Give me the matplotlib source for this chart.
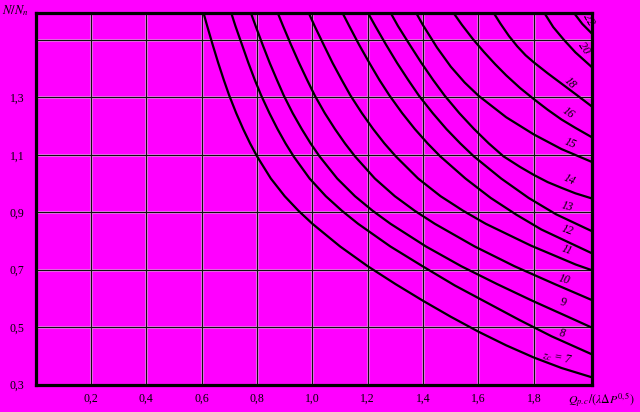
import matplotlib
matplotlib.use("Agg")
import matplotlib.pyplot as plt

# ---------------------------------------------------------
# Datos (Q vs N/N_n) para cada z
# ---------------------------------------------------------
q7 = [0.607, 0.62, 0.64, 0.66, 0.68, 0.70, 0.725, 0.75, 0.775, 0.80, 0.85, 0.90,
      0.95, 1.0, 1.1, 1.2, 1.3, 1.4, 1.5, 1.6, 1.7, 1.8, 1.9, 2.01]
n7 = [1.594, 1.549, 1.483, 1.420, 1.361, 1.306, 1.245, 1.19, 1.14, 1.095, 1.0175, 0.956,
      0.905, 0.860, 0.781, 0.712, 0.650, 0.5915, 0.536, 0.484, 0.4365, 0.394, 0.3575, 0.325]

q8 = [0.707, 0.722, 0.746, 0.769, 0.792, 0.8155, 0.845, 0.874, 0.903, 0.932, 0.990,
      1.0485, 1.107, 1.165, 1.2815, 1.398, 1.5145, 1.631, 1.7475, 1.864, 2.01]
n8 = [1.594, 1.549, 1.483, 1.420, 1.361, 1.306, 1.245, 1.19, 1.14, 1.095, 1.0175,
      0.956, 0.905, 0.860, 0.781, 0.712, 0.645, 0.585, 0.525, 0.468, 0.405]

q9 = [0.778, 0.795, 0.8205, 0.846, 0.872, 0.897, 0.929, 0.9615, 0.9935, 1.0256, 1.0897,
      1.1538, 1.218, 1.282, 1.410, 1.538, 1.667, 1.795, 1.923, 2.01]
n9 = [1.594, 1.549, 1.483, 1.420, 1.361, 1.306, 1.245, 1.19, 1.14, 1.095, 1.0175,
      0.956, 0.905, 0.860, 0.781, 0.712, 0.650, 0.5915, 0.536, 0.498]

q10 = [0.875, 0.894, 0.923, 0.952, 0.981, 1.009, 1.045, 1.0815, 1.1176, 1.1536, 1.2257,
       1.2978, 1.370, 1.442, 1.586, 1.730, 1.875, 2.01]
n10 = [1.594, 1.549, 1.483, 1.420, 1.361, 1.306, 1.245, 1.19, 1.14, 1.095, 1.0175,
       0.956, 0.905, 0.860, 0.781, 0.712, 0.650, 0.594]

q11 = [0.987, 1.008, 1.041, 1.073, 1.106, 1.138, 1.179, 1.2195, 1.260, 1.301, 1.382,
       1.463, 1.545, 1.626, 1.789, 1.951, 2.01]
n11 = [1.594, 1.549, 1.483, 1.420, 1.361, 1.306, 1.245, 1.19, 1.14, 1.095, 1.0175,
       0.956, 0.905, 0.860, 0.784, 0.718, 0.698]

q12 = [1.109, 1.133, 1.169, 1.206, 1.242, 1.279, 1.3246, 1.370, 1.416, 1.4616, 1.553,
       1.644, 1.736, 1.827, 2.01]
n12 = [1.594, 1.549, 1.483, 1.420, 1.361, 1.306, 1.245, 1.19, 1.14, 1.095, 1.0175,
       0.95, 0.892, 0.84, 0.757]

q13 = [1.201, 1.227, 1.2665, 1.306, 1.346, 1.385, 1.435, 1.484, 1.534, 1.583, 1.682,
       1.781, 1.880, 2.01]
n13 = [1.594, 1.549, 1.483, 1.420, 1.361, 1.306, 1.245, 1.19, 1.14, 1.095, 1.0175,
       0.95, 0.893, 0.834]

q14 = [1.283, 1.309, 1.352, 1.394, 1.436, 1.478, 1.531, 1.584, 1.637, 1.690, 1.75,
       1.80, 1.85, 1.90, 1.95, 2.01]
n14 = [1.594, 1.549, 1.483, 1.420, 1.361, 1.306, 1.245, 1.19, 1.14, 1.095, 1.058,
       1.03, 1.005, 0.985, 0.966, 0.948]

q15 = [1.375, 1.40, 1.45, 1.50, 1.55, 1.60, 1.70, 1.80, 1.90, 2.01]
n15 = [1.594, 1.551, 1.474, 1.407, 1.352, 1.306, 1.231, 1.171, 1.120, 1.075]

q16 = [1.51, 1.54, 1.58, 1.62, 1.66, 1.70, 1.75, 1.80, 1.85, 1.90, 1.95, 2.01]
n16 = [1.594, 1.553, 1.503, 1.458, 1.416, 1.377, 1.333, 1.294, 1.257, 1.223, 1.194, 1.161]

q18 = [1.655, 1.68, 1.71, 1.74, 1.77, 1.80, 1.85, 1.90, 1.95, 2.01]
n18 = [1.594, 1.556, 1.514, 1.478, 1.447, 1.422, 1.384, 1.348, 1.312, 1.268]

q20 = [1.838, 1.87, 1.909, 1.95, 2.01]
n20 = [1.594, 1.545, 1.50, 1.457, 1.405]

q22 = [1.945, 1.975, 2.01]
n22 = [1.594, 1.556, 1.522]

curvas = [(q7, n7), (q8, n8), (q9, n9), (q10, n10), (q11, n11), (q12, n12),
          (q13, n13), (q14, n14), (q15, n15), (q16, n16), (q18, n18),
          (q20, n20), (q22, n22)]

# etiquetas de las curvas (junto al borde derecho)
etq_txt = ["22", "20", "18", "16", "15", "14", "13", "12", "11", "10", "9", "8"]
etq_x = [1.996, 1.981, 1.931, 1.923, 1.931, 1.927, 1.920, 1.920, 1.920, 1.909, 1.905, 1.902]
etq_y = [1.570, 1.472, 1.350, 1.246, 1.141, 1.012, 0.918, 0.838, 0.768, 0.664, 0.587, 0.479]
etq_rot = [-60, -55, -45, -35, -22, -25, -15, -20, -20, -15, -10, -10]

x_ticks = [0.2, 0.4, 0.6, 0.8, 1.0, 1.2, 1.4, 1.6, 1.8]
x_labels = ["0,2", "0,4", "0,6", "0,8", "1,0", "1,2", "1,4", "1,6", "1,8"]
y_ticks = [0.3, 0.5, 0.7, 0.9, 1.1, 1.3]
y_labels = ["0,3", "0,5", "0,7", "0,9", "1,1", "1,3"]
y_grid = [0.5, 0.7, 0.9, 1.1, 1.3, 1.5]

# ---------------------------------------------------------
# Graficar
# ---------------------------------------------------------
plt.rcParams["font.family"] = ["Liberation Serif", "DejaVu Serif"]
plt.rcParams["mathtext.fontset"] = "stix"

fondo = "#ff00ff"
fig = plt.figure(figsize=(6.4, 4.12), dpi=100)
fig.patch.set_facecolor(fondo)
ax = fig.add_axes([0.0555, 0.0667, 0.8695, 0.9017])
ax.set_facecolor(fondo)
ax.set_xlim(0, 2.01)
ax.set_ylim(0.3, 1.594)

for x in x_ticks:
    ax.axvline(x, color="white", lw=2.2, alpha=0.45, zorder=1)
    ax.axvline(x, color="#111111", lw=0.9, zorder=2)
for y in y_grid:
    ax.axhline(y, color="white", lw=2.2, alpha=0.45, zorder=1)
    ax.axhline(y, color="#111111", lw=0.9, zorder=2)

for q, n in curvas:
    ax.plot(q, n, color="black", lw=1.6, zorder=3, solid_joinstyle="round")

for t, x, y, r in zip(etq_txt, etq_x, etq_y, etq_rot):
    ax.text(x, y, t, fontsize=8.5, fontstyle="italic", rotation=r,
            ha="center", va="center", zorder=4)
ax.text(1.884, 0.392, r"$z_c$ = 7", fontsize=8.5, fontstyle="italic",
        rotation=-10, ha="center", va="center", zorder=4)

ax.set_xticks(x_ticks)
ax.set_xticklabels(x_labels, fontsize=8.5)
ax.set_yticks(y_ticks)
ax.set_yticklabels(y_labels, fontsize=8.5)
ax.tick_params(length=0)
ax.tick_params(axis="x", pad=6)
ax.tick_params(axis="y", pad=8)

for s in ax.spines.values():
    s.set_linewidth(2.3)
    s.set_color("black")

ax.text(-0.074, 1.601, r"$N/N_n$", fontsize=9, ha="center", va="center",
        clip_on=False)
ax.text(2.043, 0.2495, r"$Q_{p.c}/(\lambda\Delta P^{0,5})$", fontsize=8.5,
        ha="center", va="center", clip_on=False)

fig.savefig("out.png", dpi=100, facecolor=fondo)
